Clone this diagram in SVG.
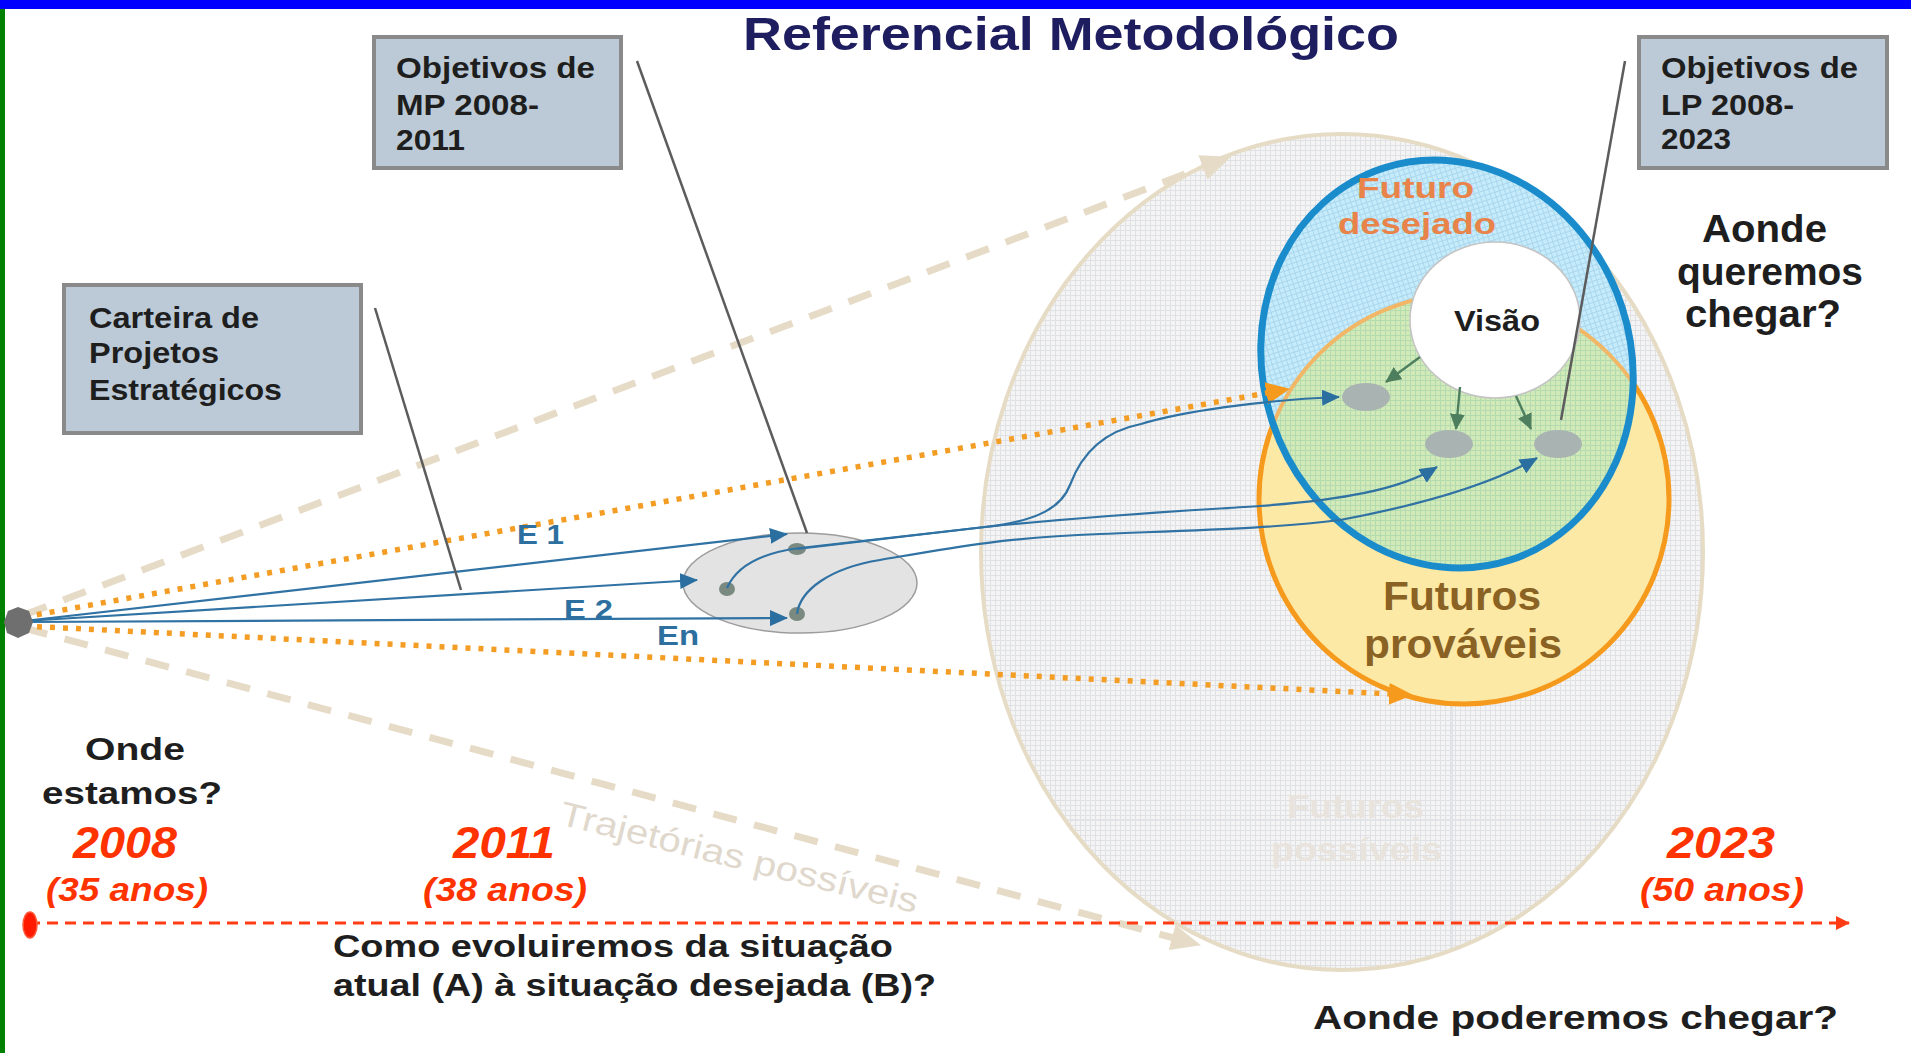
<svg xmlns="http://www.w3.org/2000/svg" width="1911" height="1053" viewBox="0 0 1911 1053">
<style>
text{font-family:"Liberation Sans",Arial,sans-serif;}
.b{font-weight:bold;}
.box{fill:#bccad7;stroke:#8a8a8a;stroke-width:4;}
.boxt{font-size:30px;font-weight:bold;fill:#1e1e1e;}
.red{font-weight:bold;font-style:italic;fill:#ff3300;}
.dark{fill:#1e1e1e;font-weight:bold;}
.blue{fill:none;stroke:#2f72a3;stroke-width:2.2;}
.green{fill:none;stroke:#4d7f5e;stroke-width:2.4;}
.call{fill:none;stroke:#5c5c5c;stroke-width:2.5;}
.beige{fill:none;stroke:#e6dbc6;stroke-width:7;stroke-dasharray:24 18;}
.dot{fill:none;stroke:#f49d24;stroke-width:5.5;stroke-dasharray:5 8;}
.sm{fill:#a9b3b1;}
.md{fill:#7a8a80;}
</style>
<defs>
<pattern id="gGrey" width="5" height="5" patternUnits="userSpaceOnUse"><rect width="5" height="5" fill="#f4f4f4"/><path d="M0 0.5H5M0.5 0V5" stroke="#e0e1e4" stroke-width="1"/></pattern>
<pattern id="gCyan" width="5" height="5" patternUnits="userSpaceOnUse"><rect width="5" height="5" fill="#c6ebfa"/><path d="M0 0.5H5M0.5 0V5" stroke="#a9d7ee" stroke-width="1"/></pattern>
<pattern id="gGreen" width="5" height="5" patternUnits="userSpaceOnUse"><rect width="5" height="5" fill="#d2eab8"/><path d="M0 0.5H5M0.5 0V5" stroke="#b4dbb0" stroke-width="1"/></pattern>
<clipPath id="clipBlue"><ellipse cx="1447" cy="364" rx="184" ry="206" transform="rotate(-18 1447 364)"/></clipPath>
<clipPath id="clipBig"><ellipse cx="1342" cy="552" rx="359" ry="416"/></clipPath>
<marker id="mBlue" viewBox="0 0 18 16" refX="17" refY="8" markerWidth="18" markerHeight="16" markerUnits="userSpaceOnUse" orient="auto"><path d="M0 0L18 8L0 16z" fill="#2a6fa0"/></marker>
<marker id="mGreen" viewBox="0 0 16 15" refX="15" refY="7.5" markerWidth="16" markerHeight="15" markerUnits="userSpaceOnUse" orient="auto"><path d="M0 0L16 7.5L0 15z" fill="#4d7f5e"/></marker>
<marker id="mOrange" viewBox="0 0 24 22" refX="23" refY="11" markerWidth="24" markerHeight="22" markerUnits="userSpaceOnUse" orient="auto"><path d="M0 0L24 11L0 22z" fill="#f59a1c"/></marker>
<marker id="mBeige" viewBox="0 0 30 26" refX="29" refY="13" markerWidth="30" markerHeight="26" markerUnits="userSpaceOnUse" orient="auto"><path d="M0 0L30 13L0 26z" fill="#e6dbc6"/></marker>
<marker id="mRed" viewBox="0 0 14 14" refX="13" refY="7" markerWidth="14" markerHeight="14" markerUnits="userSpaceOnUse" orient="auto"><path d="M0 0L14 7L0 14z" fill="#ff3c14"/></marker>
</defs>

<rect width="1911" height="1053" fill="#ffffff"/>
<rect x="0" y="0" width="1911" height="9" fill="#0000ff"/>
<rect x="0" y="9" width="5" height="1044" fill="#008000"/>

<g id="title"><text x="743" y="50" textLength="656" lengthAdjust="spacingAndGlyphs" class="b" font-size="46" fill="#1d1d5f">Referencial Metodológico</text></g>

<g id="futuros-possiveis">
<ellipse cx="1342" cy="552" rx="361" ry="418" fill="url(#gGrey)" stroke="#e6dcc6" stroke-width="4"/>
<g clip-path="url(#clipBig)"><path d="M1452 140V968M990 820H1700" stroke="#e2e3e6" stroke-width="2" fill="none"/></g>
<text x="1287" y="818" textLength="137" lengthAdjust="spacingAndGlyphs" class="b" font-size="34" fill="#e8e3dd">Futuros</text>
<text x="1271" y="861" textLength="171" lengthAdjust="spacingAndGlyphs" class="b" font-size="34" fill="#e8e3dd">possíveis</text>
</g>

<g id="futuros-provaveis-e-desejado">
<circle cx="1464" cy="499" r="205" fill="#fde9a6" stroke="#f59a1c" stroke-width="5"/>
<ellipse cx="1447" cy="364" rx="184" ry="206" transform="rotate(-18 1447 364)" fill="url(#gCyan)"/>
<g clip-path="url(#clipBlue)"><circle cx="1464" cy="499" r="205" fill="url(#gGreen)" stroke="#f2b766" stroke-width="4"/></g>
<ellipse cx="1447" cy="364" rx="184" ry="206" transform="rotate(-18 1447 364)" fill="none" stroke="#1a8ccc" stroke-width="7"/>
<text x="1357" y="198" textLength="117" lengthAdjust="spacingAndGlyphs" class="b" font-size="30" fill="#e8834a">Futuro</text>
<text x="1338" y="234" textLength="158" lengthAdjust="spacingAndGlyphs" class="b" font-size="30" fill="#e8834a">desejado</text>
<text x="1383" y="610" textLength="158" lengthAdjust="spacingAndGlyphs" class="b" font-size="40" fill="#8a6224">Futuros</text>
<text x="1364" y="658" textLength="198" lengthAdjust="spacingAndGlyphs" class="b" font-size="40" fill="#8a6224">prováveis</text>
</g>

<g id="visao">
<ellipse cx="1495" cy="320" rx="85" ry="78" fill="#ffffff" stroke="#c4c4c4" stroke-width="1.5"/>
<text x="1454" y="331" textLength="86" lengthAdjust="spacingAndGlyphs" class="dark" font-size="30">Visão</text>
</g>

<g id="objetivos-lp-alvos">
<ellipse class="sm" cx="1366" cy="397" rx="24" ry="14"/>
<ellipse class="sm" cx="1449" cy="444" rx="24" ry="14"/>
<ellipse class="sm" cx="1558" cy="444" rx="24" ry="14"/>
</g>

<g id="objetivos-mp-regiao">
<ellipse cx="800" cy="583" rx="117" ry="50" fill="#e3e3e3" stroke="#9c9c9c" stroke-width="1.5"/>
<ellipse class="md" cx="797" cy="549" rx="9" ry="6"/>
<ellipse class="md" cx="727" cy="589" rx="8" ry="7"/>
<ellipse class="md" cx="797" cy="614" rx="8" ry="7"/>
</g>

<g id="connectors">
<path class="beige" d="M24 615L1230 157" marker-end="url(#mBeige)"/>
<path class="beige" d="M24 628L1200 945" marker-end="url(#mBeige)"/>
<path class="dot" d="M24 617L1289 389" marker-end="url(#mOrange)"/>
<path class="dot" d="M24 626L1412 695" marker-end="url(#mOrange)"/>
<path class="blue" d="M24 621L787 534" marker-end="url(#mBlue)"/>
<path class="blue" d="M24 621L697 580" marker-end="url(#mBlue)"/>
<path class="blue" d="M24 622L787 618" marker-end="url(#mBlue)"/>
<path class="blue" d="M727 588C738 563 768 552 800 548L985 527C1040 521 1062 506 1070 485C1080 458 1100 432 1141 424C1180 412 1260 400 1339 397" marker-end="url(#mBlue)"/>
<path class="blue" d="M797 549L985 527C1100 515 1200 510 1260 506C1340 500 1400 490 1437 467" marker-end="url(#mBlue)"/>
<path class="blue" d="M797 614C800 590 830 568 880 560C950 548 1000 538 1100 534C1200 530 1280 528 1340 520C1420 505 1490 485 1537 458" marker-end="url(#mBlue)"/>
<path class="green" d="M1420 357L1386 382" marker-end="url(#mGreen)"/>
<path class="green" d="M1460 387L1456 429" marker-end="url(#mGreen)"/>
<path class="green" d="M1516 396L1531 429" marker-end="url(#mGreen)"/>
<path class="call" d="M637 61L807 533"/>
<path class="call" d="M375 308L461 590"/>
<path class="call" d="M1625 61L1561 420"/>
<path d="M29 923H1849" fill="none" stroke="#ff3c14" stroke-width="3" stroke-dasharray="11 7" marker-end="url(#mRed)"/>
</g>

<g id="inicio"><polygon points="33,622 29,633 18,638 7,633 4,622 8,611 18,607 29,611" fill="#6f6f6f"/></g>
<g id="marco-2008"><ellipse cx="30" cy="925" rx="7" ry="13" fill="#ff1a00" stroke="#ff5a3a" stroke-width="1.5"/></g>

<g id="labels-estrategias">
<text x="517" y="544" textLength="47" lengthAdjust="spacingAndGlyphs" class="b" font-size="28" fill="#2d70a0">E 1</text>
<text x="564" y="619" textLength="49" lengthAdjust="spacingAndGlyphs" class="b" font-size="28" fill="#2d70a0">E 2</text>
<text x="657" y="645" textLength="42" lengthAdjust="spacingAndGlyphs" class="b" font-size="28" fill="#2d70a0">En</text>
</g>

<g id="trajetorias"><text x="558" y="824" transform="rotate(14 558 824)" textLength="368" lengthAdjust="spacingAndGlyphs" font-size="34" fill="#e0d8cc">Trajetórias possíveis</text></g>

<g id="box-mp">
<rect class="box" x="374" y="37" width="247" height="131"/>
<text class="boxt" x="396" y="78" textLength="199" lengthAdjust="spacingAndGlyphs">Objetivos de</text>
<text class="boxt" x="396" y="115" textLength="143" lengthAdjust="spacingAndGlyphs">MP 2008-</text>
<text class="boxt" x="396" y="150" textLength="69" lengthAdjust="spacingAndGlyphs">2011</text>
</g>
<g id="box-lp">
<rect class="box" x="1639" y="37" width="248" height="131"/>
<text class="boxt" x="1661" y="78" textLength="197" lengthAdjust="spacingAndGlyphs">Objetivos de</text>
<text class="boxt" x="1661" y="115" textLength="133" lengthAdjust="spacingAndGlyphs">LP 2008-</text>
<text class="boxt" x="1661" y="149" textLength="70" lengthAdjust="spacingAndGlyphs">2023</text>
</g>
<g id="box-carteira">
<rect class="box" x="64" y="285" width="297" height="148"/>
<text class="boxt" x="89" y="328" textLength="170" lengthAdjust="spacingAndGlyphs">Carteira de</text>
<text class="boxt" x="89" y="363" textLength="130" lengthAdjust="spacingAndGlyphs">Projetos</text>
<text class="boxt" x="89" y="400" textLength="193" lengthAdjust="spacingAndGlyphs">Estratégicos</text>
</g>

<g id="aonde-queremos">
<text class="dark" x="1702" y="242" font-size="38" textLength="125" lengthAdjust="spacingAndGlyphs">Aonde</text>
<text class="dark" x="1677" y="285" font-size="38" textLength="186" lengthAdjust="spacingAndGlyphs">queremos</text>
<text class="dark" x="1685" y="327" font-size="38" textLength="156" lengthAdjust="spacingAndGlyphs">chegar?</text>
</g>
<g id="onde-estamos">
<text class="dark" x="85" y="760" font-size="31" textLength="100" lengthAdjust="spacingAndGlyphs">Onde</text>
<text class="dark" x="42" y="804" font-size="31" textLength="180" lengthAdjust="spacingAndGlyphs">estamos?</text>
</g>
<g id="anos">
<text class="red" x="73" y="858" font-size="45" textLength="104" lengthAdjust="spacingAndGlyphs">2008</text>
<text class="red" x="46" y="901" font-size="34" textLength="162" lengthAdjust="spacingAndGlyphs">(35 anos)</text>
<text class="red" x="453" y="858" font-size="45" textLength="102" lengthAdjust="spacingAndGlyphs">2011</text>
<text class="red" x="423" y="901" font-size="34" textLength="164" lengthAdjust="spacingAndGlyphs">(38 anos)</text>
<text class="red" x="1667" y="858" font-size="45" textLength="108" lengthAdjust="spacingAndGlyphs">2023</text>
<text class="red" x="1640" y="901" font-size="34" textLength="164" lengthAdjust="spacingAndGlyphs">(50 anos)</text>
</g>
<g id="como-evoluiremos">
<text class="dark" x="333" y="957" font-size="32" textLength="560" lengthAdjust="spacingAndGlyphs">Como evoluiremos da situação</text>
<text class="dark" x="333" y="996" font-size="32" textLength="603" lengthAdjust="spacingAndGlyphs">atual (A) à situação desejada (B)?</text>
</g>
<g id="aonde-poderemos"><text class="dark" x="1313" y="1029" font-size="34" textLength="525" lengthAdjust="spacingAndGlyphs">Aonde poderemos chegar?</text></g>
</svg>
